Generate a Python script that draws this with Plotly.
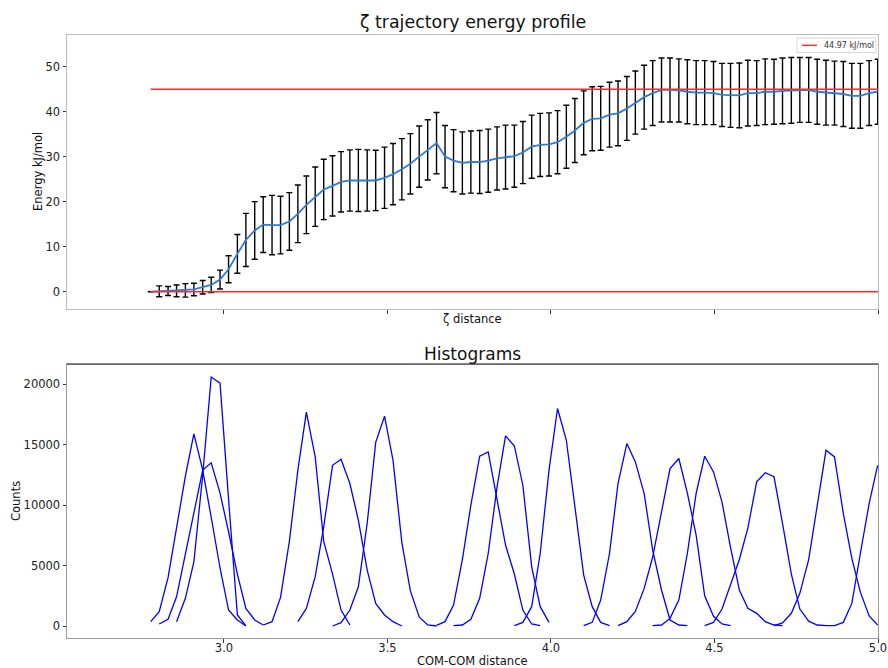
import plotly.graph_objects as go

# ---------------- data ----------------
ZETA = [
    2.776, 2.802, 2.829, 2.855, 2.882, 2.908, 2.935, 2.961, 2.988, 3.014,
    3.041, 3.067, 3.094, 3.120, 3.147, 3.173, 3.200, 3.226, 3.252, 3.279,
    3.305, 3.332, 3.358, 3.385, 3.411, 3.438, 3.464, 3.491, 3.517, 3.544,
    3.570, 3.597, 3.623, 3.650, 3.676, 3.702, 3.729, 3.755, 3.782, 3.808,
    3.835, 3.861, 3.888, 3.914, 3.941, 3.967, 3.994, 4.020, 4.047, 4.073,
    4.100, 4.126, 4.152, 4.179, 4.205, 4.232, 4.258, 4.285, 4.311, 4.338,
    4.364, 4.391, 4.417, 4.444, 4.470, 4.497, 4.523, 4.549, 4.576, 4.602,
    4.629, 4.655, 4.682, 4.708, 4.735, 4.761, 4.788, 4.814, 4.841, 4.867,
    4.894, 4.920, 4.946, 4.973, 4.999,
]

MEAN = [
    0.0, 0.1, 0.15, 0.2, 0.3, 0.5, 1.0, 1.5, 2.7, 5.0,
    8.4, 11.5, 13.6, 14.9, 14.8, 14.8, 15.6, 17.3, 19.3, 21.1,
    22.7, 23.5, 24.4, 24.7, 24.7, 24.7, 24.7, 25.3, 26.1, 27.2,
    28.4, 30.0, 31.5, 33.0, 30.0, 29.1, 28.6, 28.8, 28.8, 29.1,
    29.6, 29.9, 30.1, 30.9, 32.2, 32.6, 32.7, 33.2, 34.4, 35.8,
    37.5, 38.4, 38.5, 39.3, 39.6, 40.7, 42.0, 43.2, 44.1, 44.8,
    44.8, 44.7, 44.4, 44.2, 44.2, 44.1, 43.7, 43.6, 43.6, 44.1,
    44.1, 44.4, 44.4, 44.6, 44.7, 44.8, 44.8, 44.4, 44.2, 44.1,
    43.9, 43.5, 43.5, 44.1, 44.4,
]

ERR = [
    0.0, 1.2, 1.0, 1.3, 1.5, 1.4, 1.5, 1.7, 2.1, 3.0,
    4.3, 5.9, 6.4, 6.2, 6.6, 6.4, 6.4, 6.4, 6.4, 6.6,
    6.7, 6.7, 6.7, 6.8, 6.9, 6.8, 6.7, 6.8, 6.8, 6.8,
    6.7, 6.8, 6.7, 6.8, 6.9, 6.9, 6.9, 6.9, 7.0, 7.0,
    7.0, 7.1, 6.9, 6.9, 7.0, 7.0, 7.0, 7.0, 7.0, 7.1,
    7.1, 7.1, 7.1, 7.2, 7.2, 7.1, 7.0, 7.1, 7.2, 7.1,
    7.1, 7.0, 7.1, 7.1, 7.1, 7.0, 7.0, 7.1, 7.2, 7.3,
    7.2, 7.3, 7.2, 7.3, 7.3, 7.2, 7.2, 7.2, 7.2, 7.1,
    7.2, 7.2, 7.2, 7.2, 7.2,
]

BARRIER = 44.97
BARRIER_LABEL = "44.97 kJ/mol"

# histogram windows: first bin index into ZETA, then counts per bin
HIST_START = [0, 3, 1, 13, 17, 21, 33, 35, 42, 50, 54, 58, 64, 72, 78]
HIST_COUNTS = [
    [358, 1185, 4000, 8200, 12400, 15900, 12900, 9000, 4800, 1320, 500, 0],
    [358, 2290, 5300, 12500, 20600, 20100, 10500, 910, 28],
    [165, 550, 2420, 6000, 9500, 12900, 13500, 11000, 7800, 4300, 1460, 500, 83],
    [83, 358, 2370, 7000, 12900, 17700, 14000, 7000, 4300, 1320, 83],
    [360, 1460, 4080, 8200, 13300, 13800, 11790, 8760, 4630, 1870, 910, 358, 0],
    [0, 275, 1320, 3250, 8500, 15200, 17360, 13700, 6900, 2900, 750, 83, 0],
    [50, 358, 1735, 5500, 10000, 14050, 14400, 10550, 6700, 4300, 1320, 165, 28],
    [28, 83, 550, 2290, 6000, 11500, 15730, 14900, 11650, 4900, 1600, 300],
    [28, 300, 1600, 6000, 12900, 18000, 15370, 9860, 4215, 1600, 300, 28],
    [28, 300, 2150, 6000, 11790, 15100, 13580, 10960, 6280, 2980, 500, 83, 28],
    [28, 358, 1200, 3110, 5710, 9310, 13030, 13860, 11000, 7500, 2500, 800, 170, 28],
    [28, 83, 630, 2150, 6000, 11000, 14050, 12750, 10250, 6500, 2975, 1460, 1050, 358, 83, 28],
    [28, 300, 1400, 3400, 5500, 8100, 11930, 12680, 12350, 8500, 4300, 1400, 400, 83, 28],
    [28, 250, 1050, 2700, 5500, 10000, 14540, 13990, 9300, 5600, 2800, 830, 83],
    [28, 28, 300, 1870, 6000, 10140, 13300],
]

X_TICKS = [3.0, 3.5, 4.0, 4.5, 5.0]
X_TICK_TEXT = ["3.0", "3.5", "4.0", "4.5", "5.0"]
E_TICKS = [0, 10, 20, 30, 40, 50]
C_TICKS = [0, 5000, 10000, 15000, 20000]
X_RANGE = [2.52, 5.0]

# ---------------- figure ----------------
FONT = "DejaVu Sans"
W, H = 888, 668
fig = go.Figure()

# error bars (drawn first)
fig.add_trace(go.Scatter(
    x=ZETA, y=MEAN, mode="markers",
    marker=dict(size=1, color="rgba(0,0,0,0)"),
    error_y=dict(type="data", array=ERR, visible=True, color="black",
                 thickness=1.4, width=3),
    xaxis="x", yaxis="y", showlegend=False, hoverinfo="skip",
))
# mean energy profile
fig.add_trace(go.Scatter(
    x=ZETA, y=MEAN, mode="lines",
    line=dict(color="#2f7bd2", width=1.8),
    xaxis="x", yaxis="y", showlegend=False,
))
# reference lines
RED = "#ff2a2a"
fig.add_trace(go.Scatter(
    x=[ZETA[0], X_RANGE[1]], y=[0, 0], mode="lines",
    line=dict(color=RED, width=1.4),
    xaxis="x", yaxis="y", showlegend=False,
))
fig.add_trace(go.Scatter(
    x=[ZETA[0], X_RANGE[1]], y=[BARRIER, BARRIER], mode="lines",
    line=dict(color=RED, width=1.4),
    xaxis="x", yaxis="y", name=BARRIER_LABEL, showlegend=False,
))

# histograms
for start, counts in zip(HIST_START, HIST_COUNTS):
    fig.add_trace(go.Scatter(
        x=ZETA[start:start + len(counts)], y=counts, mode="lines",
        line=dict(color="#0000ff", width=1.3),
        xaxis="x2", yaxis="y2", showlegend=False,
    ))

XDOM = [67 / W, 878 / W]
TOP_DOM = [1 - 309.3 / H, 1 - 35 / H]
BOT_DOM = [1 - 638.3 / H, 1 - 364.3 / H]

axis_common = dict(
    showgrid=False, zeroline=False, showline=True, mirror=True,
    automargin=False,
    ticks="outside", ticklen=3.5, tickwidth=1, tickcolor="#333333",
    tickfont=dict(family=FONT, size=11.5, color="#222222"),
)

fig.update_layout(
    width=W, height=H,
    margin=dict(l=0, r=0, t=0, b=0, pad=0),
    paper_bgcolor="white", plot_bgcolor="white",
    font=dict(family=FONT, color="#222222"),
    xaxis=dict(domain=XDOM, anchor="y", range=X_RANGE, tickvals=X_TICKS,
               showticklabels=False, linecolor="#bcbcbc", **axis_common),
    yaxis=dict(domain=TOP_DOM, anchor="x", range=[-3.9, 57.0],
               tickvals=E_TICKS, linecolor="#bcbcbc", **axis_common),
    xaxis2=dict(domain=XDOM, anchor="y2", range=X_RANGE, tickvals=X_TICKS,
                ticktext=X_TICK_TEXT, linecolor="#9a9a9a",
                ticklabelstandoff=-5, **axis_common),
    yaxis2=dict(domain=BOT_DOM, anchor="x2", range=[-1018, 21658],
                tickvals=C_TICKS, ticktext=[str(v) for v in C_TICKS],
                linecolor="#9a9a9a", **axis_common),
    showlegend=False,
)

# darker top spine of the lower axes
fig.add_shape(type="line", xref="x2 domain", yref="y2 domain",
              x0=0, x1=1, y0=1, y1=1, line=dict(color="#444444", width=1))

# legend box (matplotlib-style, upper right of top axes)
fig.add_shape(type="rect", xref="paper", yref="paper",
              x0=797 / W, x1=876 / W, y0=1 - 52.5 / H, y1=1 - 38 / H,
              line=dict(color="#d6d6d6", width=1), fillcolor="white", layer="above")
fig.add_shape(type="line", xref="paper", yref="paper",
              x0=802 / W, x1=817 / W, y0=1 - 45.3 / H, y1=1 - 45.3 / H,
              line=dict(color=RED, width=1.4), layer="above")
fig.add_annotation(text=BARRIER_LABEL, x=822 / W, y=1 - 45.3 / H,
                   xref="paper", yref="paper", xanchor="left", yanchor="middle",
                   showarrow=False, font=dict(family=FONT, size=8, color="#333333"))

xc = (XDOM[0] + XDOM[1]) / 2
annots = [
    dict(text="ζ trajectory energy profile", x=xc, y=1 - 22 / H, size=17.4, angle=0),
    dict(text="Histograms", x=xc, y=1 - 354 / H, size=17, angle=0),
    dict(text="ζ distance", x=xc, y=1 - 319 / H, size=11.5, angle=0),
    dict(text="COM-COM distance", x=xc, y=1 - 661 / H, size=11.5, angle=0),
    dict(text="Energy kJ/mol", x=38 / W, y=1 - 172 / H, size=11.5, angle=-90),
    dict(text="Counts", x=16 / W, y=1 - 501 / H, size=11.5, angle=-90),
]
for a in annots:
    fig.add_annotation(text=a["text"], x=a["x"], y=a["y"], xref="paper", yref="paper",
                       xanchor="center", yanchor="middle", showarrow=False,
                       textangle=a["angle"],
                       font=dict(family=FONT, size=a["size"], color="#111111"))

fig.write_html("out.html")
